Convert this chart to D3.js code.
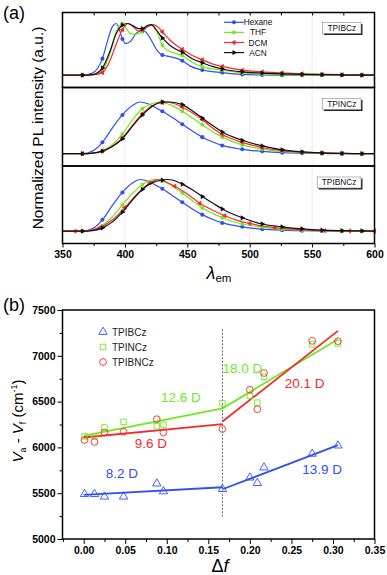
<!DOCTYPE html>
<html lang="en">
<head>
<meta charset="utf-8">
<style>
  body { margin: 0; background: white; }
  svg { font-family: "Liberation Sans", Arial, sans-serif; }
  .tick text { font-weight: bold; font-size: 10.5px; fill: black; }
  .frame { fill: none; stroke: black; stroke-width: 1.5px; }
  .grid { stroke: #e2e2e2; stroke-width: 0.7px; }
</style>
<script src="https://cdn.jsdelivr.net/npm/d3@7"></script>
</head>
<body>
<script>
// ---------- data: (a) emission spectra, [wavelength nm, normalized intensity] ----------
var samples = ["TPIBCz", "TPINCz", "TPIBNCz"];
var solvents = ["Hexane", "THF", "DCM", "ACN"];
var markEvery16 = [366, 382, 398, 414, 430, 446, 462, 478, 494, 510, 526, 542, 558, 574, 590];
var markEvery20 = [360, 380, 400, 420, 440, 460, 480, 500, 520, 540, 560, 580, 600];

var tpibczHexane = [[350,0],[366,0],[374,0.04],[378,0.13],[382,0.32],[386,0.66],[390,0.94],[393,1.0],[396,0.85],[398,0.70],[401,0.61],[405,0.67],[409,0.81],[414,0.87],[418,0.80],[422,0.64],[426,0.47],[430,0.39],[436,0.36],[441,0.33],[446,0.28],[452,0.18],[462,0.10],[478,0.05],[494,0.015],[510,0.005],[526,0],[542,0],[558,0],[574,0],[590,0],[600,0]];
var tpibczTHF = [[350,0],[366,0],[374,0.01],[382,0.09],[388,0.42],[393,0.84],[398,1.0],[401,0.91],[404,0.81],[408,0.79],[414,0.84],[418,0.93],[422,0.97],[426,0.82],[430,0.58],[436,0.46],[441,0.42],[446,0.38],[454,0.25],[462,0.16],[478,0.097],[494,0.045],[510,0.02],[526,0.01],[542,0.005],[558,0],[574,0],[590,0],[600,0]];
var tpibczDCM = [[350,0],[366,0],[374,0.005],[382,0.05],[388,0.28],[393,0.6],[398,0.88],[403,1.0],[407,0.93],[411,0.85],[414,0.87],[418,0.94],[423,0.98],[427,0.92],[430,0.84],[436,0.68],[441,0.58],[446,0.50],[454,0.38],[462,0.30],[470,0.22],[478,0.17],[494,0.097],[510,0.065],[526,0.045],[542,0.026],[558,0.018],[574,0.01],[590,0.005],[600,0]];
var tpibczACN = [[350,0],[366,0],[374,0.01],[382,0.14],[388,0.46],[393,0.8],[398,0.97],[402,1.0],[407,0.95],[411,0.9],[414,0.9],[418,0.96],[421,0.98],[425,0.88],[430,0.72],[436,0.58],[441,0.5],[446,0.445],[454,0.32],[462,0.24],[470,0.17],[478,0.12],[494,0.065],[510,0.04],[526,0.025],[542,0.015],[558,0.01],[574,0.005],[590,0],[600,0]];

var tpincHexane = [[350,0],[366,0],[374,0.05],[382,0.22],[390,0.5],[398,0.75],[406,0.93],[412,1.0],[418,0.97],[424,0.9],[430,0.82],[438,0.7],[446,0.57],[454,0.44],[462,0.32],[470,0.23],[478,0.16],[494,0.085],[510,0.045],[526,0.02],[542,0.01],[558,0.005],[574,0],[590,0],[600,0]];
var tpincTHF = [[350,0],[366,0],[374,0.01],[382,0.06],[390,0.18],[398,0.38],[406,0.65],[414,0.87],[422,0.97],[428,1.0],[430,0.99],[438,0.93],[446,0.82],[454,0.69],[462,0.56],[470,0.43],[478,0.32],[494,0.17],[510,0.09],[526,0.045],[542,0.02],[558,0.01],[574,0.005],[590,0],[600,0]];
var tpincDCM = [[350,0],[366,0],[374,0.01],[382,0.05],[390,0.15],[398,0.30],[406,0.55],[414,0.77],[422,0.93],[430,0.99],[434,1.0],[438,0.98],[446,0.9],[454,0.79],[462,0.66],[470,0.5],[478,0.37],[494,0.22],[510,0.12],[526,0.06],[542,0.03],[558,0.015],[574,0.005],[590,0],[600,0]];
var tpincACN = [[350,0],[366,0],[374,0.01],[382,0.05],[390,0.14],[398,0.29],[406,0.53],[414,0.75],[422,0.92],[430,1.0],[436,1.0],[446,0.95],[454,0.83],[462,0.69],[470,0.55],[478,0.42],[494,0.26],[510,0.15],[526,0.075],[542,0.035],[558,0.015],[574,0.005],[590,0],[600,0]];

var tpibncHexane = [[350,0],[366,0],[374,0.05],[382,0.22],[390,0.5],[398,0.75],[406,0.93],[412,1.0],[418,0.97],[424,0.9],[430,0.82],[438,0.69],[446,0.56],[454,0.43],[462,0.32],[470,0.23],[478,0.16],[494,0.085],[510,0.04],[526,0.02],[542,0.01],[558,0.005],[574,0],[590,0],[600,0]];
var tpibncTHF = [[350,0],[366,0],[374,0.02],[382,0.11],[390,0.28],[398,0.51],[406,0.73],[414,0.9],[420,0.98],[424,1.0],[430,0.97],[438,0.87],[446,0.74],[454,0.59],[462,0.45],[470,0.35],[478,0.26],[494,0.14],[510,0.08],[526,0.04],[542,0.02],[558,0.01],[574,0.005],[590,0],[600,0]];
var tpibncDCM = [[350,0],[360,0],[370,0.01],[380,0.07],[390,0.22],[400,0.46],[410,0.72],[420,0.93],[426,1.0],[430,0.98],[440,0.87],[450,0.72],[460,0.54],[470,0.41],[480,0.30],[490,0.21],[500,0.15],[510,0.1],[520,0.07],[540,0.03],[560,0.01],[580,0.005],[600,0]];
var tpibncACN = [[350,0],[366,0],[374,0.01],[382,0.065],[390,0.18],[398,0.37],[406,0.6],[414,0.81],[422,0.94],[430,0.99],[434,1.0],[438,0.99],[446,0.91],[454,0.8],[462,0.67],[470,0.55],[478,0.43],[494,0.26],[510,0.14],[526,0.085],[542,0.045],[558,0.02],[574,0.01],[590,0.005],[600,0]];

// ---------- data: (b) Lippert-Mataga ----------
var deltaF = [0.001, 0.013, 0.025, 0.048, 0.088, 0.096, 0.167, 0.200, 0.209, 0.217, 0.275, 0.306];
var shiftTPIBCz = [5490, 5490, 5462, 5462, 5605, 5520, 5545, 5670, 5610, 5780, 5930, 6020];
var shiftTPINCz = [6120, 6120, 6217, 6279, 6232, 6246, 6482, 6562, 6489, 6772, 7125, 7135];
var shiftTPIBNCz = [6080, 6060, 6163, 6170, 6308, 6163, 6200, 6630, 6417, 6812, 7163, 7160];
var fitTPIBCz = [[[0, 5482], [0.167, 5565]], [[0.167, 5543], [0.306, 6025]]];
var fitTPINCz = [[[0, 6125], [0.167, 6425]], [[0.167, 6425], [0.306, 7181]]];
var fitTPIBNCz = [[[0, 6108], [0.167, 6254]], [[0.167, 6282], [0.306, 7272]]];
var dipoleLabels = ["8.2 D", "13.9 D", "9.6 D", "12.6 D", "18.0 D", "20.1 D"];
var dipolePos = [[0.046, 5717], [0.287, 5761], [0.081, 6043], [0.117, 6554], [0.191, 6870], [0.266, 6707]];
var splitF = 0.167;

var width = 387, height = 575;
var blue = "#2f4ff0", green = "#6fe81e", red = "#f52a2a", black = "#111";
var solventColor = [blue, green, red, black];

var svg = d3.select("body").append("svg")
  .attr("width", width)
  .attr("height", height);

// ================= (a) =================
var xA = d3.scaleLinear().domain([350, 600]).range([62.5, 374.5]);
var panelTop = [12.5, 87.5, 166];
var panelBot = [87.5, 166, 243.5];

var spectra = [
  [tpibczHexane, tpibczTHF, tpibczDCM, tpibczACN],
  [tpincHexane, tpincTHF, tpincDCM, tpincACN],
  [tpibncHexane, tpibncTHF, tpibncDCM, tpibncACN]
];
var markSets = [
  [markEvery16, markEvery16, markEvery16, markEvery16],
  [markEvery16, markEvery16, markEvery16, markEvery16],
  [markEvery16, markEvery16, markEvery20, markEvery16]
];

var markSize = [13, 11, 12, 12];
function markerPath(k) {
  var types = [d3.symbolCircle, d3.symbolSquare, d3.symbolTriangle, d3.symbolTriangle];
  return d3.symbol().type(types[k]).size(markSize[k])();
}
function markerRot(k) { return k == 2 ? -90 : (k == 3 ? 90 : 0); }

var gA = svg.append("g");

panelTop.forEach(function(top, i) {
  var bot = panelBot[i];
  var y = d3.scaleLinear().domain([0, 1]).range([bot - 12.3, bot - 12.3 - 51.7]);
  var g = gA.append("g");

  g.selectAll(".grid").data([400, 450, 500, 550]).enter().append("line")
    .attr("class", "grid")
    .attr("x1", d => xA(d)).attr("x2", d => xA(d))
    .attr("y1", top).attr("y2", bot);

  var line = d3.line().x(d => xA(d[0])).y(d => y(d[1])).curve(d3.curveMonotoneX);

  spectra[i].forEach(function(series, k) {
    g.append("path").datum(series)
      .attr("d", line)
      .attr("fill", "none")
      .attr("stroke", solventColor[k])
      .attr("stroke-width", 1.2);
    var marks = series.filter(d => markSets[i][k].indexOf(d[0]) >= 0);
    g.selectAll(".m" + k).data(marks).enter().append("path")
      .attr("class", "m" + k)
      .attr("d", markerPath(k))
      .attr("fill", solventColor[k])
      .attr("transform", d => "translate(" + xA(d[0]) + "," + y(d[1]) + ") rotate(" + markerRot(k) + ")");
  });

  g.append("rect").attr("class", "frame")
    .attr("x", xA(350)).attr("y", top)
    .attr("width", xA(600) - xA(350)).attr("height", bot - top);

  // sample tag with shadow
  var tw = samples[i].length * 5.4 + 6;
  var tx = 361 - tw, ty = top + (i == 0 ? 10 : 11);
  g.append("rect").attr("x", tx + 1.5).attr("y", ty + 1.5).attr("width", tw).attr("height", 11).attr("fill", "#222");
  g.append("rect").attr("x", tx).attr("y", ty).attr("width", tw).attr("height", 11)
    .attr("fill", "white").attr("stroke", "#888").attr("stroke-width", 0.6);
  g.append("text").attr("x", tx + tw / 2).attr("y", ty + 8.3)
    .attr("text-anchor", "middle").attr("font-size", "8.3px").attr("fill", "#111")
    .text(samples[i]);
});

// top inward ticks on panel 1
gA.append("g").attr("transform", "translate(0," + panelTop[0] + ")")
  .call(d3.axisBottom(xA).tickValues(d3.range(375, 600, 25)).tickSize(3).tickFormat(""))
  .call(g => g.select(".domain").remove());

// bottom axis
gA.append("g").attr("transform", "translate(0," + panelBot[2] + ")")
  .call(d3.axisBottom(xA).tickValues(d3.range(350, 601, 50)).tickSize(4).tickPadding(3))
  .call(g => g.select(".domain").remove());
gA.append("g").attr("transform", "translate(0," + panelBot[2] + ")")
  .call(d3.axisBottom(xA).tickValues(d3.range(375, 600, 50)).tickSize(2.5).tickFormat(""))
  .call(g => g.select(".domain").remove());

// legend (a)
var leg = gA.append("g");
solvents.forEach(function(s, k) {
  var ly = 22.3 + k * 10.1;
  leg.append("line").attr("x1", 224).attr("x2", 244).attr("y1", ly).attr("y2", ly)
    .attr("stroke", solventColor[k]).attr("stroke-width", 1.2);
  leg.append("path").attr("d", markerPath(k)).attr("fill", solventColor[k])
    .attr("transform", "translate(234," + ly + ") rotate(" + markerRot(k) + ")");
  leg.append("text").attr("x", 258).attr("y", ly + 3).attr("text-anchor", "middle")
    .attr("font-size", "8.3px").attr("fill", "#111").text(s);
});

svg.append("text").attr("x", 3).attr("y", 19).attr("font-size", "18px").text("(a)");

svg.append("text")
  .attr("transform", "translate(43,128) rotate(-90)")
  .attr("text-anchor", "middle").attr("font-size", "15.5px")
  .text("Normalized PL intensity (a.u.)");

var lam = svg.append("text").attr("x", 219).attr("y", 279).attr("text-anchor", "middle");
lam.append("tspan").attr("font-size", "18px").attr("font-style", "italic").text("λ");
lam.append("tspan").attr("font-size", "11.5px").attr("dy", 3).text("em");

// ================= (b) =================
var xB = d3.scaleLinear().domain([-0.0255, 0.35]).range([62.5, 374.5]);
var yB = d3.scaleLinear().domain([5000, 7500]).range([539, 310]);
var gB = svg.append("g");

gB.append("rect").attr("class", "frame")
  .attr("x", xB.range()[0]).attr("y", yB(7500))
  .attr("width", xB.range()[1] - xB.range()[0]).attr("height", yB(5000) - yB(7500));

gB.append("g").attr("transform", "translate(" + xB.range()[0] + ",0)")
  .call(d3.axisLeft(yB).tickValues(d3.range(5000, 7501, 500)).tickSize(5).tickPadding(2).tickFormat(d3.format("d")))
  .call(g => g.select(".domain").remove());
gB.append("g").attr("transform", "translate(" + xB.range()[0] + ",0)")
  .call(d3.axisLeft(yB).tickValues(d3.range(5250, 7500, 500)).tickSize(3).tickFormat(""))
  .call(g => g.select(".domain").remove());
gB.append("g").attr("transform", "translate(0," + yB(5000) + ")")
  .call(d3.axisBottom(xB).tickValues(d3.range(0, 0.351, 0.05)).tickSize(5).tickPadding(3).tickFormat(d3.format(".2f")))
  .call(g => g.select(".domain").remove());
gB.append("g").attr("transform", "translate(0," + yB(5000) + ")")
  .call(d3.axisBottom(xB).tickValues(d3.range(-0.025, 0.34, 0.05)).tickSize(3).tickFormat(""))
  .call(g => g.select(".domain").remove());

gB.append("line")
  .attr("x1", xB(splitF)).attr("x2", xB(splitF))
  .attr("y1", yB(7290)).attr("y2", yB(5230))
  .attr("stroke", "#4a5568").attr("stroke-width", 0.9).attr("stroke-dasharray", "2,1.5");

var fitLine = d3.line().x(d => xB(d[0])).y(d => yB(d[1]));
[[fitTPIBCz, blue], [fitTPINCz, green], [fitTPIBNCz, red]].forEach(function(f) {
  f[0].forEach(function(seg) {
    gB.append("path").datum(seg).attr("d", fitLine)
      .attr("stroke", f[1]).attr("stroke-width", 1.8).attr("fill", "none");
  });
});

var openMarks = [
  [shiftTPIBCz, blue, d3.symbolTriangle, 30],
  [shiftTPINCz, green, d3.symbolSquare, 30],
  [shiftTPIBNCz, red, d3.symbolCircle, 36]
];
openMarks.forEach(function(m) {
  gB.append("g").selectAll("path").data(m[0]).enter().append("path")
    .attr("d", d3.symbol().type(m[2]).size(m[3]))
    .attr("transform", (d, i) => "translate(" + xB(deltaF[i]) + "," + yB(d) + ")")
    .attr("fill", "none").attr("stroke", m[1]).attr("stroke-width", 0.9);
});

// legend (b)
samples.forEach(function(s, k) {
  var ly = 332 + k * 15;
  gB.append("path").attr("d", d3.symbol().type(openMarks[k][2]).size(openMarks[k][3]))
    .attr("transform", "translate(103," + ly + ")")
    .attr("fill", "none").attr("stroke", openMarks[k][1]).attr("stroke-width", 0.9);
  gB.append("text").attr("x", 112).attr("y", ly + 3.5).attr("font-size", "10px").attr("fill", "#222").text(s);
});

var dipoleColor = [blue, blue, red, green, green, red];
dipoleLabels.forEach(function(t, i) {
  gB.append("text")
    .attr("x", xB(dipolePos[i][0])).attr("y", yB(dipolePos[i][1]) + 5)
    .attr("text-anchor", "middle").attr("font-size", "13.5px")
    .attr("fill", dipoleColor[i]).text(t);
});

svg.append("text").attr("x", 3).attr("y", 311).attr("font-size", "18px").text("(b)");

var yl = svg.append("text").attr("transform", "translate(23,421) rotate(-90)")
  .attr("text-anchor", "middle").attr("font-size", "15px");
yl.append("tspan").attr("font-style", "italic").text("V");
yl.append("tspan").attr("font-size", "9px").attr("dy", 3).text("a");
yl.append("tspan").attr("dy", -3).text(" - ");
yl.append("tspan").attr("font-style", "italic").text("V");
yl.append("tspan").attr("font-size", "9px").attr("dy", 3).text("f");
yl.append("tspan").attr("dy", -3).text(" (cm");
yl.append("tspan").attr("font-size", "9px").attr("dy", -6).text("-1");
yl.append("tspan").attr("dy", 6).text(")");

var dfl = svg.append("text").attr("x", 220).attr("y", 572).attr("text-anchor", "middle").attr("font-size", "18px");
dfl.append("tspan").text("Δ");
dfl.append("tspan").attr("font-style", "italic").text("f");
</script>
</body>
</html>
